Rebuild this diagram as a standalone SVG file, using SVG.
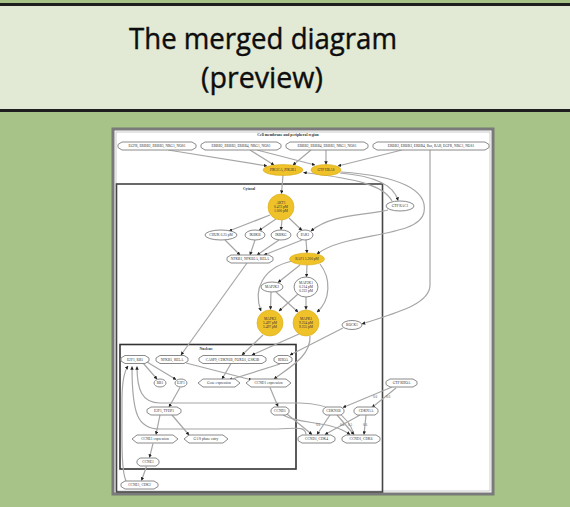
<svg xmlns="http://www.w3.org/2000/svg" width="570" height="507" viewBox="0 0 570 507">
<defs>
<marker id="ah" viewBox="0 0 6 6" refX="5.5" refY="3" markerWidth="3.5" markerHeight="3.5" markerUnits="userSpaceOnUse" orient="auto">
<path d="M0,0 L6,3 L0,6 z" fill="#222"/>
</marker>
</defs>
<style>
.n{fill:#fff;stroke:#8a8a8a;stroke-width:1}
.y{fill:#efc22a;stroke:#d9ab18;stroke-width:0.6}
.t{font-family:"Liberation Serif",serif;font-size:3.6px;fill:#333;text-anchor:middle}
.e{fill:none;stroke:#a6a6a6;stroke-width:1.2}
.a{marker-end:url(#ah)}
.lb{font-family:"Liberation Serif",serif;font-size:3.4px;fill:#555;text-anchor:middle}
.cl{font-family:"Liberation Serif",serif;font-size:3.8px;fill:#333;text-anchor:middle;font-weight:bold}
</style>
<rect x="0" y="0" width="570" height="507" fill="#a7c387"/>
<rect x="0" y="4" width="570" height="107" fill="#e2e9d4"/>
<line x1="0" y1="4.5" x2="570" y2="4.5" stroke="#1e1e1e" stroke-width="3"/>
<line x1="0" y1="110.5" x2="570" y2="110.5" stroke="#1e1e1e" stroke-width="3"/>
<text x="263" y="49" font-family="Open Sans, Lato, sans-serif" font-size="29" fill="#0d0d0d" stroke="#0d0d0d" stroke-width="0.4" text-anchor="middle" textLength="268" lengthAdjust="spacingAndGlyphs">The merged diagram</text>
<text x="262" y="88" font-family="Open Sans, Lato, sans-serif" font-size="29" fill="#0d0d0d" stroke="#0d0d0d" stroke-width="0.4" text-anchor="middle" textLength="122" lengthAdjust="spacingAndGlyphs">(preview)</text>

<!-- diagram frame -->
<rect x="113" y="129" width="380" height="365" fill="#fff" stroke="#7a7a7a" stroke-width="3"/>
<rect x="116" y="132" width="374" height="359" fill="none" stroke="#bdbdbd" stroke-width="0.8"/>
<text class="cl" x="288" y="136">Cell membrane and peripheral region</text>
<rect id="cytosol" x="116.5" y="184" width="266" height="308" fill="none" stroke="#444" stroke-width="1.6"/>
<text class="cl" x="249" y="190">Cytosol</text>
<rect id="nucleus" x="120" y="344.5" width="176" height="124.5" fill="none" stroke="#333" stroke-width="1.6"/>
<text class="cl" x="206" y="349.5">Nucleus</text>

<g id="connectors">
<path class="e a" d="M168,150 L267,166"/>
<path class="e a" d="M250,150 L274,165"/>
<path class="e a" d="M257,150 L315,165"/>
<path class="e a" d="M311,150 L293,165"/>
<path class="e a" d="M326,150 L326,164.5"/>
<path class="e a" d="M402,150 L338,166"/>
<path class="e a" d="M430,150 L430,285 C430,305 392,314 362,324"/>
<path class="e a" d="M283,175 L281.5,193.5"/>
<path class="e a" d="M340,173 C375,176 394,185 398,200.5"/>
<path class="e a" d="M392,201 C384,186 360,179 303.5,172.5"/>
<path class="e a" d="M341,172 C400,176 428,190 424,212 C420,238 345,232 317,254"/>
<path class="e a" d="M388,210 C362,216 332,214 311,231"/>
<path class="e a" d="M270,215 L229,231"/>
<path class="e a" d="M276,219 L259,230.5"/>
<path class="e a" d="M282,220 L281,230"/>
<path class="e a" d="M289,218 L302,230.5"/>
<path class="e a" d="M225,240 L240,255"/>
<path class="e a" d="M255,240 L250,255"/>
<path class="e a" d="M279,240 L257,255"/>
<path class="e a" d="M302,240 L264,255"/>
<path class="e a" d="M306,240 L307,253"/>
<path class="e a" d="M247,263 L181,355"/>
<path class="e a" d="M300,265 L278,282.5"/>
<path class="e a" d="M307,265 L306.5,277"/>
<path class="e a" d="M292,261 C262,268 253,290 261,311"/>
<path class="e a" d="M320,264 C331,278 331,300 317,312"/>
<path class="e a" d="M271,292 L270.5,309.5"/>
<path class="e a" d="M276,292 L298,312"/>
<path class="e a" d="M298,294 L279,311"/>
<path class="e a" d="M306,297 L306,309.5"/>
<path class="e a" d="M263,335 L242,355"/>
<path class="e a" d="M299,334 L252,355"/>
<path class="e a" d="M310,336 C311,355 292,366 274,379"/>
<path class="e a" d="M343,328 L290,355"/>
<path class="e a" d="M143,363 L157,379"/>
<path class="e a" d="M147,362 L176,379.5"/>
<path class="e a" d="M186,363 L252,380"/>
<path class="e a" d="M231,363.5 L222,379"/>
<path class="e a" d="M280,364 L229,380"/>
<path class="e a" d="M180,387.5 L169,407"/>
<path class="e a" d="M270,387.5 L278,406.5"/>
<path class="e a" d="M160,415 L156,434.5"/>
<path class="e a" d="M172,415 L189,435"/>
<path class="e a" d="M153,443.5 L149.5,457.5"/>
<path class="e a" d="M146.5,466.5 L141.5,480.5"/>
<path class="e a" d="M126,481 C121,470 122,440 122,400 C122,380 124,372 128,366"/>
<path class="e a" d="M306,434.5 C305,425 295,429 270,429 L160,429 C138,429 132,415 132,366.5"/>
<path class="e a" d="M354,434.5 C348,415 332,404 300,403 L160,403 C142,403 137,390 137,366.5"/>
<path class="e a" d="M287,414 L312,434.5"/>
<path class="e a" d="M283,415 C300,425 330,420 350,434.5"/>
<path class="e a" d="M392,387 L343,407.5"/>
<path class="e a" d="M396,388 L372,407.5"/>
<path class="e a" d="M330,415 L317,434.5"/>
<path class="e a" d="M337,415 L354,434.5"/>
<path class="e a" d="M360,415 L325,434.5"/>
<path class="e a" d="M366,415 L364,434.5"/>
<text class="lb" x="375" y="398">0.6</text>
<text class="lb" x="388" y="398">0.6</text>
<text class="lb" x="318" y="426">0.6</text>
<text class="lb" x="342" y="426">0.6</text>
<text class="lb" x="350" y="426">0.5</text>
<text class="lb" x="365" y="426">0.6</text>
</g>

<g id="n1"><polygon class="n" points="122,142 192,142 196,144.5 196,147.5 192,150 122,150 118,147.5 118,144.5"/><text class="t" x="157" y="147.3">EGFR, ERBB2, ERBB3, NRG1, NOS1</text></g>
<g id="n2"><polygon class="n" points="205,142 277,142 281,144.5 281,147.5 277,150 205,150 201,147.5 201,144.5"/><text class="t" x="241" y="147.3">ERBB2, ERBB3, ERBB4, NRG1, NOS1</text></g>
<g id="n3"><polygon class="n" points="290,142 364,142 368,144.5 368,147.5 364,150 290,150 286,147.5 286,144.5"/><text class="t" x="327" y="147.3">ERBB2, ERBB4, ERBB3, NRG1, NOS1</text></g>
<g id="n4"><polygon class="n" points="377,142 485,142 489,144.5 489,147.5 485,150 377,150 373,147.5 373,144.5"/><text class="t" x="431" y="147.3">ERBB2, ERBB3, ERBB4, Ras, RAB, EGFR, NRG1, NOS1</text></g>
<g id="pik3ca"><ellipse class="y" cx="283" cy="170" rx="20" ry="5.5"/><text class="t" x="283" y="171.3">PIK3CA, PIK3R1</text></g>
<g id="hras"><ellipse class="y" cx="326" cy="170" rx="15" ry="5.5"/><text class="t" x="326" y="171.3">GTP HRAS</text></g>
<g id="rac1"><ellipse class="n" cx="400" cy="206" rx="14" ry="5"/><text class="t" x="400" y="207.3">GTP RAC1</text></g>
<g id="akt1"><ellipse class="y" cx="281" cy="207" rx="13" ry="13"/><text class="t" x="281" y="203.5">AKT1</text><text class="t" x="281" y="207.8">0.473 pM</text><text class="t" x="281" y="212.1">1.000 pM</text></g>
<g id="chuk"><ellipse class="n" cx="221" cy="235" rx="16" ry="5"/><text class="t" x="221" y="236.3">CHUK 0.25 pM</text></g>
<g id="ikbkb"><ellipse class="n" cx="255" cy="235" rx="10" ry="5"/><text class="t" x="255" y="236.3">IKBKB</text></g>
<g id="ikbkg"><ellipse class="n" cx="281" cy="235" rx="10" ry="5"/><text class="t" x="281" y="236.3">IKBKG</text></g>
<g id="pak1"><ellipse class="n" cx="305" cy="235" rx="8" ry="5"/><text class="t" x="305" y="236.3">PAK1</text></g>
<g id="nfkb"><polygon class="n" points="231,255 269,255 273,257.5 273,260.5 269,263 231,263 227,260.5 227,257.5"/><text class="t" x="250" y="260.3">NFKB1, NFKB2A, RELA</text></g>
<g id="raf1"><ellipse class="y" cx="307" cy="259" rx="17.5" ry="6"/><text class="t" x="307" y="260.3">RAF1 5.200 pM</text></g>
<g id="map2k2"><ellipse class="n" cx="272" cy="287" rx="11" ry="5"/><text class="t" x="272" y="288.3">MAP2K2</text></g>
<g id="map2k1"><ellipse class="n" cx="306" cy="287" rx="12" ry="10"/><text class="t" x="306" y="283.5">MAP2K1</text><text class="t" x="306" y="287.8">0.214 pM</text><text class="t" x="306" y="292.1">0.222 pM</text></g>
<g id="mapk3"><ellipse class="y" cx="270" cy="323" rx="13" ry="13"/><text class="t" x="270" y="319.5">MAPK3</text><text class="t" x="270" y="323.8">5.497 pM</text><text class="t" x="270" y="328.1">5.497 pM</text></g>
<g id="mapk1"><ellipse class="y" cx="306" cy="323" rx="13" ry="13"/><text class="t" x="306" y="319.5">MAPK1</text><text class="t" x="306" y="323.8">9.254 pM</text><text class="t" x="306" y="328.1">9.255 pM</text></g>
<g id="rock1"><ellipse class="n" cx="352" cy="325" rx="10" ry="4.5"/><text class="t" x="352" y="326.3">ROCK1</text></g>

<g id="e2f1rb1"><polygon class="n" points="125,355.5 145,355.5 149,358 149,361 145,363.5 125,363.5 121,361 121,358"/><text class="t" x="135" y="360.8">E2F1, RB1</text></g>
<g id="nfkbn"><polygon class="n" points="160,355.5 184,355.5 188,358 188,361 184,363.5 160,363.5 156,361 156,358"/><text class="t" x="172" y="360.8">NFKB1, RELA</text></g>
<g id="casp9"><polygon class="n" points="203,355.5 262,355.5 266,358 266,361 262,363.5 203,363.5 199,361 199,358"/><text class="t" x="232.5" y="360.8">CASP9, CDKN1B, FOXO1, GSK3B</text></g>
<g id="rhoan"><polygon class="n" points="278,355.5 288,355.5 292,358 292,361 288,363.5 278,363.5 274,361 274,358"/><text class="t" x="283" y="360.8">RHOA</text></g>
<g id="rb1"><ellipse class="n" cx="160" cy="383" rx="6" ry="4"/><text class="t" x="160" y="384.3">RB1</text></g>
<g id="e2f1"><ellipse class="n" cx="181" cy="383" rx="6" ry="4"/><text class="t" x="181" y="384.3">E2F1</text></g>
<g id="geneexp"><polygon class="n" points="198,383 203,379 235,379 240,383 235,387 203,387"/><text class="t" x="219" y="384.3">Gene expression</text></g>
<g id="ccnd1exp"><polygon class="n" points="246,383 251,379 286,379 291,383 286,387 251,387"/><text class="t" x="268.5" y="384.3">CCND1 expression</text></g>
<g id="e2f1tfdp1"><polygon class="n" points="151,407 177,407 181,409.5 181,412.5 177,415 151,415 147,412.5 147,409.5"/><text class="t" x="164" y="412.3">E2F1, TFDP1</text></g>
<g id="ccnd1"><polygon class="n" points="274,407 286,407 289,409.5 289,412.5 286,415 274,415 271,412.5 271,409.5"/><text class="t" x="280" y="412.3">CCND1</text></g>
<g id="ccne1exp"><polygon class="n" points="132,439 137,435 173,435 178,439 173,443 137,443"/><text class="t" x="155" y="440.3">CCNE1 expression</text></g>
<g id="g1s"><polygon class="n" points="184,439 189,435 223,435 228,439 223,443 189,443"/><text class="t" x="206" y="440.3">G1/S phase entry</text></g>
<g id="ccne1"><polygon class="n" points="140,458 156,458 159,460.5 159,463.5 156,466 140,466 137,463.5 137,460.5"/><text class="t" x="148" y="463.3">CCNE1</text></g>
<g id="ccne1cdk2"><polygon class="n" points="125,481 154,481 158,483.5 158,486.5 154,489 125,489 121,486.5 121,483.5"/><text class="t" x="139.5" y="486.3">CCNE1, CDK2</text></g>
<g id="rhoa"><polygon class="n" points="390,379 413,379 417,381.5 417,384.5 413,387 390,387 386,384.5 386,381.5"/><text class="t" x="401.5" y="384.3">GTP RHOA</text></g>
<g id="cdkn1b"><polygon class="n" points="326,407 341,407 344,409.5 344,412.5 341,415 326,415 323,412.5 323,409.5"/><text class="t" x="333.5" y="412.3">CDKN1B</text></g>
<g id="cdkn1a"><polygon class="n" points="357,407 375,407 378,409.5 378,412.5 375,415 357,415 354,412.5 354,409.5"/><text class="t" x="366" y="412.3">CDKN1A</text></g>
<g id="ccnd1cdk4"><polygon class="n" points="302,435 331,435 335,437.5 335,440.5 331,443 302,443 298,440.5 298,437.5"/><text class="t" x="316.5" y="440.3">CCND1, CDK4</text></g>
<g id="ccnd1cdk6"><polygon class="n" points="346,435 376,435 380,437.5 380,440.5 376,443 346,443 342,440.5 342,437.5"/><text class="t" x="361" y="440.3">CCND1, CDK6</text></g>
</svg>
